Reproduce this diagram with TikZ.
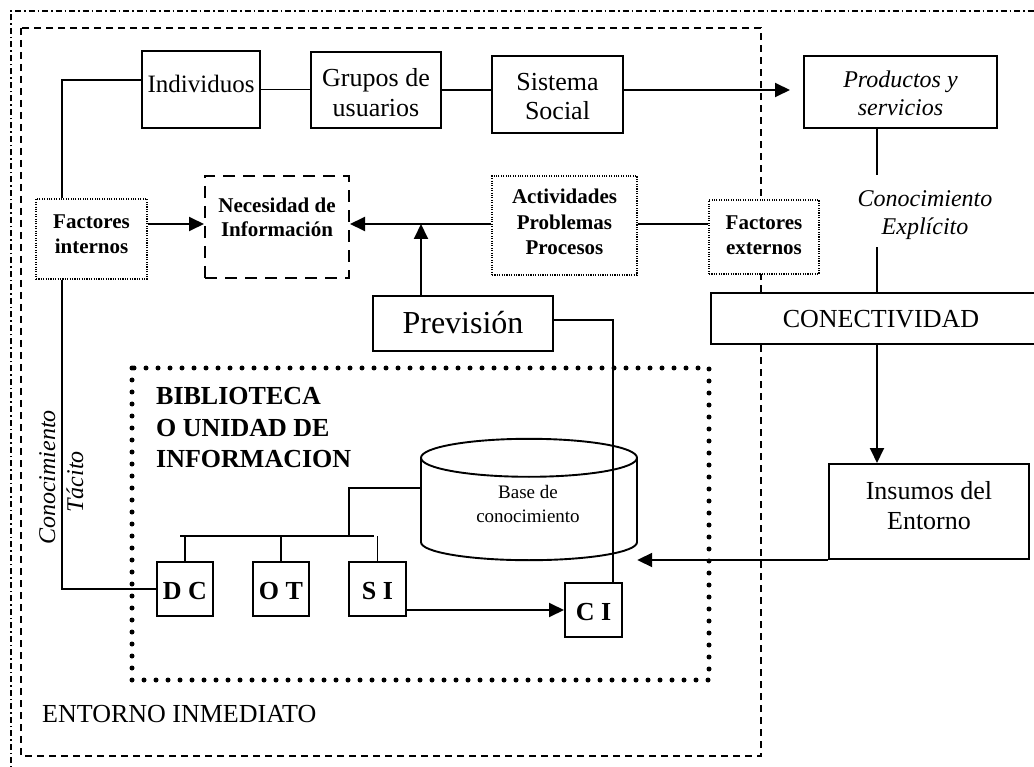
\documentclass[tikz,border=0pt]{standalone}
\usepackage{fontspec}
\setmainfont{Liberation Serif}
\usetikzlibrary{arrows.meta,fit,calc}
\newcommand\txtsize[1]{\fontsize{#1}{#1}\selectfont}
\begin{document}
\begin{tikzpicture}[x=1pt,y=-1pt,
  box/.style={draw, line width=2pt, fill=white, inner sep=0pt},
  dotbox/.style={draw, line width=1.2pt, dash pattern=on 1.1pt off 1.3pt, fill=white, inner sep=0pt},
  dashbox/.style={draw, line width=2pt, dash pattern=on 12pt off 8pt, fill=white, inner sep=0pt},
  link/.style={line width=1.9pt},
  arrow/.style={link, -{Triangle[length=15pt,width=14pt]}},
  txt/.style={anchor=base, inner sep=0pt, font=\txtsize{26}},
  boldtxt/.style={txt, font=\bfseries\txtsize{21}},
  bigbold/.style={txt, font=\bfseries\txtsize{26}},
  ittxt/.style={txt, font=\itshape\txtsize{24}}]

\fill[white] (0,0) rectangle (1034,767);
\useasboundingbox (0,0) rectangle (1034,767);

% outer frames
\draw[line width=1.3pt, dash pattern=on 6pt off 3pt on 1.5pt off 3pt] (11,790) -- (11,11) -- (1050,11);
\draw[line width=1.7pt, dash pattern=on 7pt off 5pt] (21,28) rectangle (761,756);
\draw[line width=5pt, line cap=round, dash pattern=on 0pt off 12pt] (132,368) rectangle (709,680);

% boxes
\node[box, fit={(142,51) (260,128)}] (ind) {};
\node[box, fit={(311,52) (441,128)}] (grp) {};
\node[box, fit={(492,56) (623,133)}] (sis) {};
\node[box, fit={(804,56) (997,128)}] (prod) {};
\node[dotbox, fit={(36,199) (147,279)}] (fi) {};
\node[dashbox, fit={(205,176) (349,278)}] (nec) {};
\node[dotbox, fit={(492,176) (637,275)}] (act) {};
\node[dotbox, fit={(709,200) (819,274)}] (fe) {};
\node[box, fit={(373,296) (553,351)}] (prev) {};
\node[box, fit={(711,293) (1051,344)}] (con) {};
\node[box, fit={(829,464) (1029,559)}] (ins) {};
\node[box, fit={(157,562) (213,616)}] (dc) {};
\node[box, fit={(253,562) (309,616)}] (ot) {};
\node[box, fit={(349,562) (406,616)}] (si) {};
\node[box, fit={(565,583) (622,637)}] (ci) {};
\node[inner sep=0pt, fit={(421,439) (637,560)}] (kb) {};

% knowledge base cylinder
\coordinate (kbt) at ($(kb.north)+(0,19)$);
\coordinate (kbb) at ($(kb.south)+(0,-18)$);
\draw[link, fill=white] ($(kbt)+(-108,0)$) -- ($(kbb)+(-108,0)$)
  arc[start angle=180, end angle=0, x radius=108, y radius=18] -- ($(kbt)+(108,0)$);
\draw[link, fill=white] (kbt) ellipse[x radius=108, y radius=19];

% helper points for connectors
\coordinate (tk) at (62,80);
\coordinate (tb) at (62,589);
\coordinate (my) at (0,224);
\coordinate (kx) at (877,0);
\coordinate (px) at (421,0);
\coordinate (cx) at (613,320);
\coordinate (bus) at (0,536);
\coordinate (up) at (349,488);

% connectors
\draw[link] (ind.west |- tk) -- (tk) -- (tk |- fi.north);
\draw[link] (tk |- fi.south) -- (tb) -- (dc.west);
\draw[link] (ind.east) -- (ind.east -| grp.west);
\draw[link] (grp.east) -- (grp.east -| sis.west);
\draw[arrow, shorten >=13pt] (grp.east -| sis.east) -- (grp.east -| prod.west);
\draw[link] (kx |- prod.south) -- ++(0,46);
\draw[link] (kx |- con.north) -- ++(0,-45);
\draw[arrow] (kx |- con.south) -- (kx |- ins.north);
\draw[arrow] (ins.south west) -- (ins.south west -| kb.east);
\draw[arrow] (fi.east |- my) -- (nec.west |- my);
\draw[arrow] (act.west |- my) -- (nec.east |- my);
\draw[link] (act.east |- my) -- (fe.west |- my);
\draw[arrow] (px |- prev.north) -- (px |- my);
\draw[link] (prev.east |- cx) -- (cx) -- (cx |- ci.north);
\draw[link] ($(dc.north |- bus)+(-5,0)$) -- ($(si.north |- bus)+(-4,0)$);
\draw[link] (dc.north) -- (dc.north |- bus);
\draw[link] (ot.north) -- (ot.north |- bus);
\draw[link] (si.north) -- (si.north |- bus);
\draw[link] (up |- bus) -- (up) -- (up -| kb.west);
\draw[arrow] (si.east |- ci.west) -- (ci.west);

% labels
\node[txt, font=\txtsize{25}] (tind) at (201,93) {Individuos};
\node[txt] (tgrp1) at (376,87) {Grupos de};
\node[txt] (tgrp2) at (376,117) {usuarios};
\node[txt] (tsis1) at (557.5,91) {Sistema};
\node[txt] (tsis2) at (557.5,120) {Social};
\node[ittxt] (tprod1) at (900.5,88) {Productos y};
\node[ittxt] (tprod2) at (900.5,116) {servicios};
\node[ittxt] (tke1) at (925,207) {Conocimiento};
\node[ittxt] (tke2) at (925,235) {Explícito};
\node[boldtxt] (tfi1) at (91.5,229) {Factores};
\node[boldtxt] (tfi2) at (91.5,254) {internos};
\node[boldtxt] (tnec1) at (277,213) {Necesidad de};
\node[boldtxt] (tnec2) at (277,237) {Información};
\node[boldtxt] (tact1) at (564.5,204) {Actividades};
\node[boldtxt] (tact2) at (564.5,230) {Problemas};
\node[boldtxt] (tact3) at (564.5,255) {Procesos};
\node[boldtxt] (tfe1) at (764,230) {Factores};
\node[boldtxt] (tfe2) at (764,255) {externos};
\node[txt, font=\txtsize{32}] (tprev) at (463,334) {Previsión};
\node[txt] (tcon) at (881,328) {CONECTIVIDAD};
\node[txt] (tins1) at (929,499) {Insumos del};
\node[txt] (tins2) at (929,529) {Entorno};
\node[txt, font=\txtsize{19}] (tkb1) at (528,498) {Base de};
\node[txt, font=\txtsize{19}] (tkb2) at (528,522) {conocimiento};
\node[bigbold] (tdc) at (185,599) {D C};
\node[bigbold] (tot) at (281,599) {O T};
\node[bigbold] (tsi) at (377.5,599) {S I};
\node[bigbold] (tci) at (593.5,620) {C I};
\node[bigbold, anchor=base west] (tbib1) at (156,405) {BIBLIOTECA};
\node[bigbold, anchor=base west] (tbib2) at (156,436) {O UNIDAD DE};
\node[bigbold, anchor=base west] (tbib3) at (156,467) {INFORMACION};
\node[ittxt, rotate=90] (tkt1) at (55,477.5) {Conocimiento};
\node[ittxt, rotate=90] (tkt2) at (83,482) {Tácito};
\node[txt, anchor=base west] (tent) at (42,722) {ENTORNO INMEDIATO};
\end{tikzpicture}
\end{document}
